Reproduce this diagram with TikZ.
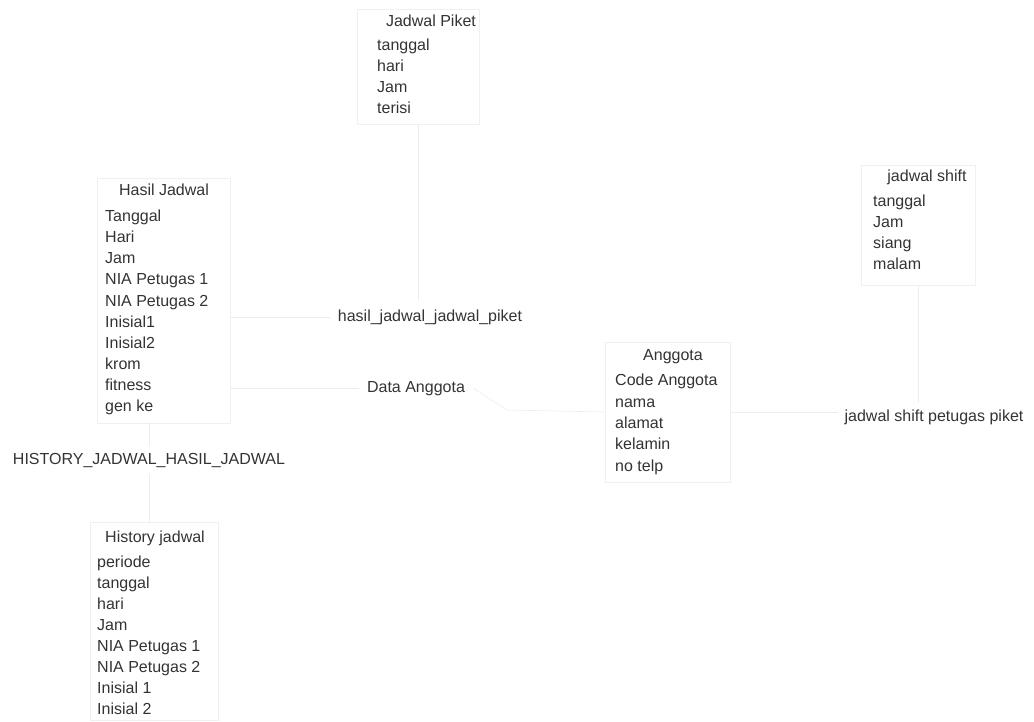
\documentclass[tikz,border=0pt]{standalone}
\usepackage{fontspec}
\setmainfont{Liberation Sans}
\begin{document}
\begin{tikzpicture}[x=1pt,y=-1pt,
  every node/.style={font=\fontsize{16}{20}\selectfont, text=black!80, inner sep=0pt},
  attr/.style={anchor=west, text height=11.5pt, text depth=3.5pt},
  ttl/.style={text height=11.5pt, text depth=3.5pt},
  entbox/.style={draw=black!6, line width=0.6pt, rectangle, inner sep=0pt},
  conn/.style={draw=black!7, line width=0.6pt},
  rel/.style={text height=11.5pt, text depth=3.5pt}]
\useasboundingbox (0,0) rectangle (1034,722);

% entity boxes
\node[entbox, minimum width=122pt, minimum height=115pt] (JP) at (418,67) {};
\node[entbox, minimum width=133pt, minimum height=245pt] (HJ) at (163.5,300.5) {};
\node[entbox, minimum width=128pt, minimum height=198pt] (HIS) at (154,621) {};
\node[entbox, minimum width=125pt, minimum height=140pt] (AG) at (667.5,412) {};
\node[entbox, minimum width=114pt, minimum height=120pt] (JS) at (918.5,225) {};

% Jadwal Piket
\node[ttl] (jpT) at (431,23) {Jadwal Piket};
\node[attr] (jp1) at (377,47) {tanggal};
\node[attr] (jp2) at (377,68) {hari};
\node[attr] (jp3) at (377,89) {Jam};
\node[attr] (jp4) at (377,110) {terisi};

% Hasil Jadwal
\node[ttl] (hjT) at (164,192) {Hasil Jadwal};
\node[attr] (hj1) at (105,218) {Tanggal};
\node[attr] (hj2) at (105,239) {Hari};
\node[attr] (hj3) at (105,260) {Jam};
\node[attr] (hj4) at (105,281) {NIA Petugas 1};
\node[attr] (hj5) at (105,302) {NIA Petugas 2};
\node[attr] (hj6) at (105,323) {Inisial1};
\node[attr] (hj7) at (105,344) {Inisial2};
\node[attr] (hj8) at (105,365) {krom};
\node[attr] (hj9) at (105,386) {fitness};
\node[attr] (hj10) at (105,407) {gen ke};

% History jadwal
\node[ttl] (hsT) at (155,538) {History jadwal};
\node[attr] (hs1) at (97,563) {periode};
\node[attr] (hs2) at (97,584) {tanggal};
\node[attr] (hs3) at (97,605) {hari};
\node[attr] (hs4) at (97,626) {Jam};
\node[attr] (hs5) at (97,647) {NIA Petugas 1};
\node[attr] (hs6) at (97,668) {NIA Petugas 2};
\node[attr] (hs7) at (97,689) {Inisial 1};
\node[attr] (hs8) at (97,710) {Inisial 2};

% Anggota
\node[ttl] (agT) at (673,356) {Anggota};
\node[attr] (ag1) at (615,381) {Code Anggota};
\node[attr] (ag2) at (615,403) {nama};
\node[attr] (ag3) at (615,424) {alamat};
\node[attr] (ag4) at (615,445) {kelamin};
\node[attr] (ag5) at (615,467) {no telp};

% jadwal shift
\node[ttl] (jsT) at (927,178) {jadwal shift};
\node[attr] (js1) at (873,203) {tanggal};
\node[attr] (js2) at (873,224) {Jam};
\node[attr] (js3) at (873,245) {siang};
\node[attr] (js4) at (873,266) {malam};

% relationship labels
\node[rel] (R1) at (430,317) {hasil\_jadwal\_jadwal\_piket};
\node[rel] (R2) at (416,388) {Data Anggota};
\node[rel] (R3) at (149,460) {HISTORY\_JADWAL\_HASIL\_JADWAL};
\node[rel] (R4) at (934,417) {jadwal shift petugas piket};

\coordinate (a1) at (507,410);

% connectors
\draw[conn] (JP.south) -- ([yshift=8pt]JP.south |- R1.north);
\draw[conn] ([xshift=-8pt]R1.west) -- (R1.west -| HJ.east);
\draw[conn] ([xshift=-8pt]R2.west) -- (R2.west -| HJ.east);
\draw[conn] (AG.west) -- (a1) -- ([xshift=8pt]R2.east);
\draw[conn] (AG.east) -- ([xshift=-6pt]AG.east -| R4.west);
\draw[conn] (JS.south) -- ([yshift=6pt]JS.south |- R4.north);
\draw[conn] (HJ.south -| R3.north) -- ([yshift=6pt]R3.north);
\draw[conn] ([yshift=-6pt]R3.south) -- (R3.south |- HIS.north);
\end{tikzpicture}
\end{document}
